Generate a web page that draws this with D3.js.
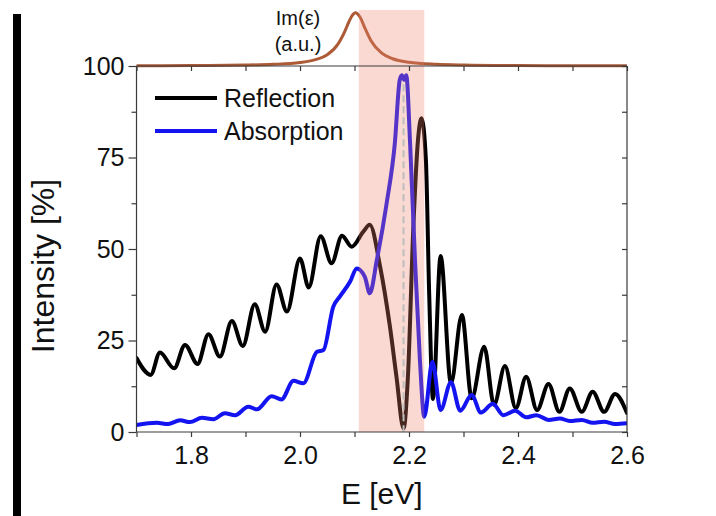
<!DOCTYPE html>
<html>
<head>
<meta charset="utf-8">
<script src="https://cdn.jsdelivr.net/npm/d3@7"></script>
<style>
  html, body { margin: 0; padding: 0; background: #fff; }
  svg { display: block; font-family: "Liberation Sans", Arial, sans-serif; }
</style>
</head>
<body>
<svg id="chart" width="716" height="516"></svg>
<script>
// Reflection spectrum [E (eV), intensity %]
const reflection = [
  [1.700, 20.2], [1.726, 15.6], [1.743, 21.7], [1.769, 17.4], [1.789, 23.8],
  [1.812, 18.6], [1.832, 26.7], [1.853, 20.6], [1.875, 30.3], [1.895, 23.5],
  [1.917, 34.9], [1.936, 27.4], [1.957, 40.3], [1.976, 32.9], [2.000, 47.4],
  [2.016, 39.5], [2.038, 53.5], [2.058, 46.1], [2.077, 53.6], [2.095, 50.6],
  [2.116, 54.7], [2.128, 56.6], [2.147, 45.2], [2.165, 28.8], [2.177, 15.1],
  [2.190, 1.0], [2.198, 15.1], [2.208, 56.1], [2.217, 80.7], [2.223, 85.7],
  [2.231, 74.3], [2.237, 37.9], [2.244, 9.0], [2.258, 48.1], [2.277, 13.3],
  [2.297, 32.0], [2.315, 9.2], [2.338, 23.3], [2.356, 7.4], [2.376, 18.0],
  [2.396, 6.5], [2.415, 15.1], [2.435, 6.0], [2.456, 13.1], [2.476, 5.5],
  [2.495, 11.9], [2.517, 5.5], [2.537, 11.0], [2.558, 5.5], [2.578, 10.4],
  [2.600, 5.2]
];

// Absorption spectrum [E (eV), intensity %]
const absorption = [
  [1.700, 1.9], [1.737, 2.5], [1.758, 2.2], [1.780, 3.2], [1.798, 2.7],
  [1.820, 3.9], [1.841, 3.5], [1.862, 5.1], [1.881, 4.6], [1.905, 6.9],
  [1.921, 6.2], [1.948, 9.8], [1.966, 8.9], [1.988, 14.0], [2.006, 13.3],
  [2.031, 21.9], [2.043, 22.4], [2.061, 34.2], [2.073, 37.0], [2.092, 41.1],
  [2.104, 44.7], [2.119, 42.4], [2.128, 37.9], [2.141, 47.0], [2.159, 62.5],
  [2.174, 78.9], [2.183, 96.2], [2.187, 97.5], [2.191, 96.2], [2.195, 97.5],
  [2.202, 78.9], [2.211, 47.0], [2.220, 19.7], [2.228, 4.2], [2.243, 19.2],
  [2.258, 6.0], [2.277, 13.6], [2.294, 5.8], [2.315, 10.1], [2.332, 5.3],
  [2.354, 7.7], [2.373, 4.6], [2.395, 5.8], [2.415, 4.0], [2.434, 4.6],
  [2.456, 3.3], [2.477, 3.7], [2.495, 3.0], [2.517, 3.3], [2.537, 2.5],
  [2.558, 2.8], [2.578, 2.2], [2.600, 2.4]
];

// Imaginary part of the permittivity, normalised [E (eV), a.u.]
const imEps = [
  [1.70, 0.0045], [1.80, 0.008], [1.90, 0.0175], [1.95, 0.031], [2.00, 0.065],
  [2.03, 0.123], [2.05, 0.212], [2.07, 0.416], [2.08, 0.60], [2.09, 0.835],
  [2.095, 0.937], [2.102, 1.0], [2.11, 0.92], [2.12, 0.69], [2.13, 0.48],
  [2.15, 0.24], [2.17, 0.136], [2.20, 0.070], [2.25, 0.032], [2.30, 0.018],
  [2.40, 0.008], [2.50, 0.0046], [2.60, 0.003]
];

// Highlighted strong-coupling window and resonance energy (eV)
const bandRange = [2.108, 2.228];
const resonanceE = 2.19;
const resonanceSpan = [0, 95];

const energyDomain = [1.7, 2.6];
const intensityDomain = [0, 100];
const energyTickLabels = [1.8, 2.0, 2.2, 2.4, 2.6];
const energyMinorTicks = [1.7, 1.8, 1.9, 2.0, 2.1, 2.2, 2.3, 2.4, 2.5, 2.6];
const intensityTickLabels = [0, 25, 50, 75, 100];
const intensityMinorTicks = [12.5, 37.5, 62.5, 87.5];
const intensityRightTicks = [0, 12.5, 25, 37.5, 50, 62.5, 75, 87.5, 100];

const seriesNames = ["Reflection", "Absorption"];
const seriesColors = ["#000000", "#1414f0"];

const svg = d3.select("#chart");
const W = 716, H = 516;
const plot = { left: 136.5, right: 627, top: 66, bottom: 432 };

svg.append("rect").attr("width", W).attr("height", H).attr("fill", "#fff");

// Black bar at the left edge of the panel
svg.append("rect").attr("x", 13).attr("y", 14).attr("width", 8).attr("height", H - 14).attr("fill", "#000");

const x = d3.scaleLinear().domain(energyDomain).range([plot.left, plot.right]);
const y = d3.scaleLinear().domain(intensityDomain).range([plot.bottom, plot.top]);
const yIm = d3.scaleLinear().domain([0, 1]).range([plot.top, 12.7]);

const lineMain = d3.line()
  .x(d => x(d[0])).y(d => y(d[1]))
  .curve(d3.curveMonotoneX);

svg.append("defs").append("clipPath").attr("id", "plotclip")
  .append("rect").attr("x", plot.left).attr("y", 0)
  .attr("width", plot.right - plot.left).attr("height", plot.bottom + 2);

const g = svg.append("g").attr("clip-path", "url(#plotclip)");

g.append("path").datum(reflection)
  .attr("d", lineMain).attr("fill", "none")
  .attr("stroke", seriesColors[0]).attr("stroke-width", 4)
  .attr("stroke-linejoin", "round").attr("stroke-linecap", "round");

g.append("path").datum(absorption)
  .attr("d", lineMain).attr("fill", "none")
  .attr("stroke", seriesColors[1]).attr("stroke-width", 4)
  .attr("stroke-linejoin", "round").attr("stroke-linecap", "round");

// Im(eps) curve sitting on the top frame
const lineIm = d3.line()
  .x(d => x(d[0])).y(d => yIm(d[1]))
  .curve(d3.curveMonotoneX);

svg.append("path").datum(imEps)
  .attr("d", lineIm).attr("fill", "none")
  .attr("stroke", "#ad5b36").attr("stroke-width", 3);

// Translucent band over the coupling window
svg.append("rect")
  .attr("x", x(bandRange[0])).attr("y", 10)
  .attr("width", x(bandRange[1]) - x(bandRange[0]))
  .attr("height", plot.bottom - 10)
  .attr("fill", "rgb(240,128,110)").attr("fill-opacity", 0.3);

// Dashed marker at the resonance
svg.append("line")
  .attr("x1", x(resonanceE)).attr("x2", x(resonanceE))
  .attr("y1", y(resonanceSpan[1])).attr("y2", y(resonanceSpan[0]))
  .attr("stroke", "#bdbdbd").attr("stroke-width", 2)
  .attr("stroke-dasharray", "7,4");

// Frame
const axisColor = "#3a3a3a";
const frame = svg.append("g").attr("stroke", axisColor).attr("stroke-width", 1.2);
frame.append("line").attr("x1", plot.left).attr("x2", plot.right).attr("y1", plot.bottom).attr("y2", plot.bottom);
frame.append("line").attr("x1", plot.left).attr("x2", plot.right).attr("y1", plot.top).attr("y2", plot.top);
frame.append("line").attr("x1", plot.left).attr("x2", plot.left).attr("y1", plot.top).attr("y2", plot.bottom);
frame.append("line").attr("x1", plot.right).attr("x2", plot.right).attr("y1", plot.top).attr("y2", plot.bottom);

// Bottom axis: outward ticks every 0.1 eV, labels every 0.2 eV
const xAxisBottom = d3.axisBottom(x).tickValues(energyMinorTicks).tickSize(5).tickFormat("");
svg.append("g").attr("transform", `translate(0,${plot.bottom})`).call(xAxisBottom)
  .call(a => a.select(".domain").remove())
  .call(a => a.selectAll("line").attr("stroke", axisColor).attr("stroke-width", 1.2));

const xLabels = d3.axisBottom(x).tickValues(energyTickLabels).tickSize(0).tickPadding(14)
  .tickFormat(d3.format(".1f"));
svg.append("g").attr("transform", `translate(0,${plot.bottom})`).call(xLabels)
  .call(a => a.select(".domain").remove())
  .call(a => a.selectAll("text").attr("font-size", 25).attr("fill", "#111")
    .attr("font-family", "Liberation Sans, Arial, sans-serif"));

// Top axis: inward ticks
const xAxisTop = d3.axisBottom(x).tickValues(energyMinorTicks).tickSize(5).tickFormat("");
svg.append("g").attr("transform", `translate(0,${plot.top})`).call(xAxisTop)
  .call(a => a.select(".domain").remove())
  .call(a => a.selectAll("line").attr("stroke", axisColor).attr("stroke-width", 1.2));

// Left axis: outward major and minor ticks
const yAxisLeft = d3.axisLeft(y).tickValues(intensityTickLabels).tickSize(8).tickPadding(4);
svg.append("g").attr("transform", `translate(${plot.left},0)`).call(yAxisLeft)
  .call(a => a.select(".domain").remove())
  .call(a => a.selectAll("line").attr("stroke", axisColor).attr("stroke-width", 1.2))
  .call(a => a.selectAll("text").attr("font-size", 25).attr("fill", "#111")
    .attr("font-family", "Liberation Sans, Arial, sans-serif"));

const yMinorLeft = d3.axisLeft(y).tickValues(intensityMinorTicks).tickSize(5).tickFormat("");
svg.append("g").attr("transform", `translate(${plot.left},0)`).call(yMinorLeft)
  .call(a => a.select(".domain").remove())
  .call(a => a.selectAll("line").attr("stroke", axisColor).attr("stroke-width", 1.2));

// Right axis: inward ticks
const yAxisRight = d3.axisLeft(y).tickValues(intensityRightTicks).tickSize(5).tickFormat("");
svg.append("g").attr("transform", `translate(${plot.right},0)`).call(yAxisRight)
  .call(a => a.select(".domain").remove())
  .call(a => a.selectAll("line").attr("stroke", axisColor).attr("stroke-width", 1.2));

// Axis titles
svg.append("text").attr("x", (plot.left + plot.right) / 2).attr("y", 504)
  .attr("text-anchor", "middle").attr("font-size", 30).attr("fill", "#111")
  .text("E [eV]");

svg.append("text").attr("transform", `translate(54,${(plot.top + plot.bottom) / 2 + 17}) rotate(-90)`)
  .attr("text-anchor", "middle").attr("font-size", 32).attr("fill", "#111")
  .text("Intensity [%]");

// Im(eps) label
svg.append("text").attr("x", 298).attr("y", 25).attr("text-anchor", "middle")
  .attr("font-size", 20).attr("fill", "#111").text("Im(ε)");
svg.append("text").attr("x", 298).attr("y", 51).attr("text-anchor", "middle")
  .attr("font-size", 20).attr("fill", "#111").text("(a.u.)");

// Legend
const legend = svg.append("g");
seriesNames.forEach((name, i) => {
  const ly = 98 + i * 33;
  legend.append("line").attr("x1", 155).attr("x2", 217).attr("y1", ly).attr("y2", ly)
    .attr("stroke", seriesColors[i]).attr("stroke-width", 4);
  legend.append("text").attr("x", 224).attr("y", ly + 9).attr("font-size", 25)
    .attr("fill", "#111").text(name);
});
</script>
</body>
</html>
